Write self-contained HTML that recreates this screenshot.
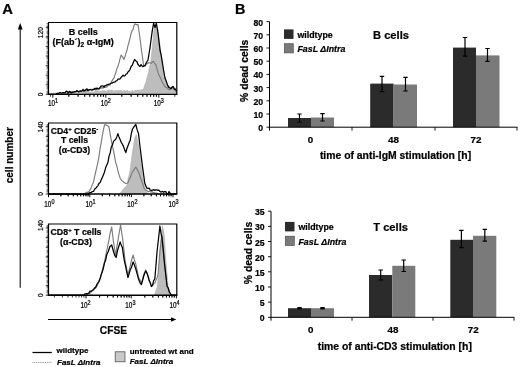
<!DOCTYPE html>
<html><head><meta charset="utf-8"><style>
html,body{margin:0;padding:0;background:#fff;}
body{width:520px;height:367px;overflow:hidden;font-family:"Liberation Sans",sans-serif;}
svg{display:block;}
svg text[font-weight="bold"]{stroke:#000;stroke-width:0.22px;}
</style></head><body>
<svg width="520" height="367" viewBox="0 0 520 367" style="filter:blur(0.3px)">
<rect width="520" height="367" fill="#fff"/>
<text x="2.2" y="14" font-family="Liberation Sans, sans-serif" font-weight="bold" font-size="14.8" stroke="#000" stroke-width="0.3">A</text>
<text x="234.9" y="14" font-family="Liberation Sans, sans-serif" font-weight="bold" font-size="14.4" stroke="#000" stroke-width="0.3">B</text>
<line x1="20.2" y1="27" x2="20.2" y2="287.8" stroke="#000" stroke-width="1.05"/>
<polygon points="20.2,23 17.8,29.5 22.6,29.5" fill="#000"/>
<text transform="translate(13.1,155.2) rotate(-90)" text-anchor="middle" font-family="Liberation Sans, sans-serif" font-weight="bold" font-size="10">cell number</text>
<line x1="48" y1="319.5" x2="173" y2="319.5" stroke="#000" stroke-width="1"/>
<polygon points="176.3,319.5 171,317.2 171,321.8" fill="#000"/>
<text x="113.4" y="333.6" text-anchor="middle" font-family="Liberation Sans, sans-serif" font-weight="bold" font-size="10.2">CFSE</text>
<polygon points="48.5,94.4 48.5,93.4 49.5,93.4 50.5,93.3 51.6,93.3 52.6,93.3 53.6,93.3 54.6,93.2 55.7,93.1 56.7,93.0 57.7,92.6 58.7,94.4 59.8,92.3 60.8,93.1 61.8,94.4 62.8,92.3 63.9,93.1 64.9,93.1 65.9,92.2 66.9,92.7 68.0,93.2 69.0,92.8 70.0,92.8 71.0,93.1 72.0,92.2 73.0,92.3 74.0,92.0 75.0,92.6 76.0,93.2 77.0,92.7 78.0,92.9 79.0,92.3 80.0,92.8 81.0,91.7 82.0,92.0 83.0,92.6 84.0,92.6 85.0,92.1 86.0,91.5 87.0,91.7 88.0,91.6 89.0,91.7 90.0,92.0 91.0,92.4 92.0,91.3 93.0,92.3 94.0,92.2 95.0,90.8 96.0,91.2 97.0,91.3 98.0,90.4 99.0,91.0 100.0,91.0 101.0,91.6 102.0,90.3 103.0,91.1 104.0,90.3 105.0,91.0 106.0,91.5 107.0,90.4 108.0,90.1 109.0,90.2 110.0,90.9 111.0,90.0 112.0,90.1 113.0,90.7 114.0,91.4 115.0,90.6 116.0,90.5 117.0,90.9 118.0,90.0 119.0,90.7 120.0,90.6 121.0,90.1 122.0,90.9 123.0,91.5 124.0,90.0 125.0,90.9 126.0,91.0 127.0,90.3 128.0,90.5 129.0,91.8 130.0,91.0 131.0,91.7 132.0,90.3 133.0,91.1 134.0,91.5 135.0,90.3 136.0,90.8 137.0,89.8 138.0,90.5 139.1,90.0 140.2,90.2 141.3,89.7 142.4,89.7 143.5,89.0 144.8,84.8 146.0,82.0 147.0,77.8 148.0,74.0 149.0,69.9 150.0,64.8 151.0,60.0 152.5,45.0 154.0,30.0 155.3,22.8 156.4,25.3 157.5,28.0 158.8,36.3 160.0,45.0 161.0,53.3 162.0,60.0 163.7,74.0 165.5,80.0 167.0,84.0 168.0,85.3 169.0,85.6 170.0,87.5 171.0,87.5 172.0,86.2 173.0,86.0 174.2,87.4 175.3,88.5 176.5,90.5 176.5,94.4" fill="#bdbdbd" stroke="#a8a8a8" stroke-width="0.5"/>
<polyline points="48.5,94.4 49.5,94.4 50.6,94.4 51.6,94.4 52.6,94.4 53.7,94.4 54.7,94.4 55.7,94.4 56.8,94.4 57.8,94.4 58.8,94.4 59.8,93.4 60.9,93.3 61.9,93.3 62.9,93.4 64.0,93.5 65.0,93.0 66.0,93.4 67.0,94.4 68.0,93.1 69.0,93.3 70.0,91.7 71.0,92.3 72.0,93.0 73.0,92.4 74.0,92.7 75.0,91.4 76.0,91.9 77.0,91.4 78.0,91.8 79.0,91.7 80.0,91.5 81.0,90.6 82.0,90.8 83.0,90.7 84.0,91.6 85.0,91.3 86.0,90.2 87.0,91.0 88.0,89.9 89.0,90.5 90.0,89.6 91.0,89.2 92.0,90.5 93.0,89.3 94.0,89.2 95.0,89.5 96.0,90.0 97.0,89.6 98.0,88.4 99.0,89.2 100.0,88.3 101.0,88.3 102.0,87.3 103.0,88.2 104.0,87.6 105.0,87.0 106.0,87.3 107.0,86.8 108.0,85.5 109.0,85.2 110.0,85.0 111.0,82.7 112.0,80.9 113.0,79.1 114.0,78.0 115.0,74.7 116.0,72.2 117.0,68.2 118.0,66.0 119.1,62.6 120.1,58.4 121.2,55.0 122.6,56.9 123.9,59.5 124.9,56.8 126.0,53.1 127.0,50.0 128.0,45.7 129.0,42.0 130.0,38.3 131.0,34.0 132.0,30.7 133.0,29.7 134.0,25.6 135.0,23.8 136.0,24.4 137.0,24.8 138.0,24.5 139.2,32.5 140.5,42.0 141.5,50.5 142.6,57.8 143.6,66.0 144.7,65.5 145.9,63.9 147.0,64.0 148.0,62.9 149.0,62.8 150.0,63.0 151.2,63.3 152.4,61.6 153.6,61.6 154.8,63.7 156.0,65.0 157.0,69.0 158.0,72.4 159.0,75.0 160.2,77.4 161.4,80.1 162.6,83.0 163.7,84.5 164.9,86.4 166.0,87.5 167.1,87.6 168.2,89.3 169.3,89.6 170.5,89.2 171.8,88.4 173.0,87.0 174.2,87.8 175.3,90.7 176.5,91.5" fill="none" stroke="#7c7c7c" stroke-width="1.15" stroke-linejoin="round"/>
<polyline points="48.5,94.4 49.5,94.4 50.6,94.4 51.6,94.4 52.7,94.4 53.7,94.4 54.8,94.4 55.8,94.4 56.8,93.5 57.9,93.3 58.9,93.2 60.0,92.5 61.0,93.0 62.0,93.0 63.0,92.5 64.0,92.9 65.0,92.9 66.0,91.4 67.0,91.2 68.0,93.1 69.0,91.6 70.0,91.4 71.0,93.1 72.0,91.8 73.0,92.5 74.0,91.6 75.0,91.5 76.0,91.7 77.0,90.4 78.0,91.4 79.0,91.8 80.0,90.9 81.0,91.3 82.0,91.0 83.0,89.4 84.0,90.9 85.0,90.4 86.0,89.6 87.0,88.8 88.0,90.6 89.0,89.6 90.0,89.5 91.0,89.8 92.0,90.0 93.0,89.4 94.0,89.7 95.0,88.2 96.0,89.0 97.0,88.0 98.0,88.9 99.0,88.6 100.0,87.5 101.0,86.2 102.0,85.9 103.0,85.8 104.0,87.2 105.0,85.6 106.0,85.7 107.0,84.6 108.0,84.7 109.0,84.1 110.0,84.0 111.0,83.1 112.0,83.2 113.0,82.5 114.0,82.0 115.0,82.1 116.0,80.8 117.0,80.7 118.0,79.0 119.0,79.2 120.0,78.9 121.0,77.5 122.0,76.5 123.0,75.1 124.0,76.1 125.0,75.7 126.0,74.0 127.0,73.8 128.0,71.9 129.0,71.1 130.0,69.5 131.2,66.3 132.3,65.3 133.4,62.2 134.6,59.5 135.7,60.7 136.9,61.8 138.0,64.5 139.0,65.7 140.0,66.4 141.0,64.6 142.0,66.0 143.0,66.7 144.0,65.8 145.0,66.0 146.0,63.2 147.0,61.5 148.0,60.0 149.0,54.0 150.0,47.6 151.0,40.0 152.3,30.6 153.6,23.3 155.0,27.5 156.4,23.5 158.0,33.0 159.0,41.8 160.0,50.0 161.3,55.9 162.6,64.0 163.8,71.5 165.0,78.0 166.2,81.1 167.5,85.0 168.8,87.4 170.0,88.0 171.0,88.7 172.0,87.0 173.0,86.5 174.2,89.2 175.3,89.0 176.5,91.0" fill="none" stroke="#000" stroke-width="1.25" stroke-linejoin="round"/>
<polyline points="48.5,94.4 48.5,22.5 176.8,22.5 176.8,94.4" fill="none" stroke="#000" stroke-width="1.2"/>
<line x1="47.9" y1="94.4" x2="177.4" y2="94.4" stroke="#000" stroke-width="1.4"/>
<line x1="47.3" y1="23.5" x2="47.3" y2="94.4" stroke="#000" stroke-width="1.4" stroke-dasharray="0.5,0.75"/>
<line x1="45.7" y1="94.4" x2="48.5" y2="94.4" stroke="#000" stroke-width="0.7"/>
<line x1="45.7" y1="84.8" x2="48.5" y2="84.8" stroke="#000" stroke-width="0.7"/>
<line x1="45.7" y1="75.2" x2="48.5" y2="75.2" stroke="#000" stroke-width="0.7"/>
<line x1="45.7" y1="65.6" x2="48.5" y2="65.6" stroke="#000" stroke-width="0.7"/>
<line x1="45.7" y1="56.0" x2="48.5" y2="56.0" stroke="#000" stroke-width="0.7"/>
<line x1="45.7" y1="46.4" x2="48.5" y2="46.4" stroke="#000" stroke-width="0.7"/>
<line x1="45.7" y1="36.8" x2="48.5" y2="36.8" stroke="#000" stroke-width="0.7"/>
<line x1="45.7" y1="27.2" x2="48.5" y2="27.2" stroke="#000" stroke-width="0.7"/>
<text transform="translate(43.3,32.7) rotate(-90)" text-anchor="middle" font-family="Liberation Sans, sans-serif" font-size="6.6" stroke="#000" stroke-width="0.2">120</text>
<text transform="translate(43.3,94.4) rotate(-90)" text-anchor="middle" font-family="Liberation Sans, sans-serif" font-size="6.6" stroke="#000" stroke-width="0.2">0</text>
<line x1="52.8" y1="94.4" x2="52.8" y2="97.60000000000001" stroke="#000" stroke-width="0.95"/>
<text transform="translate(53.1,106.30000000000001) scale(0.74,1)" text-anchor="middle" font-family="Liberation Sans, sans-serif" font-size="8.6" stroke="#000" stroke-width="0.25">10<tspan dy="-3.5" font-size="7.4">1</tspan></text>
<line x1="50.4" y1="94.4" x2="50.4" y2="96.7" stroke="#000" stroke-width="0.8"/>
<line x1="68.8" y1="94.4" x2="68.8" y2="96.7" stroke="#000" stroke-width="0.8"/>
<line x1="78.1" y1="94.4" x2="78.1" y2="96.7" stroke="#000" stroke-width="0.8"/>
<line x1="84.7" y1="94.4" x2="84.7" y2="96.7" stroke="#000" stroke-width="0.8"/>
<line x1="89.8" y1="94.4" x2="89.8" y2="96.7" stroke="#000" stroke-width="0.8"/>
<line x1="94.0" y1="94.4" x2="94.0" y2="96.7" stroke="#000" stroke-width="0.8"/>
<line x1="97.6" y1="94.4" x2="97.6" y2="96.7" stroke="#000" stroke-width="0.8"/>
<line x1="100.7" y1="94.4" x2="100.7" y2="96.7" stroke="#000" stroke-width="0.8"/>
<line x1="103.4" y1="94.4" x2="103.4" y2="96.7" stroke="#000" stroke-width="0.8"/>
<line x1="105.8" y1="94.4" x2="105.8" y2="97.60000000000001" stroke="#000" stroke-width="0.95"/>
<text transform="translate(105.8,106.30000000000001) scale(0.74,1)" text-anchor="middle" font-family="Liberation Sans, sans-serif" font-size="8.6" stroke="#000" stroke-width="0.25">10<tspan dy="-3.5" font-size="7.4">2</tspan></text>
<line x1="68.8" y1="94.4" x2="68.8" y2="96.7" stroke="#000" stroke-width="0.8"/>
<line x1="78.1" y1="94.4" x2="78.1" y2="96.7" stroke="#000" stroke-width="0.8"/>
<line x1="84.7" y1="94.4" x2="84.7" y2="96.7" stroke="#000" stroke-width="0.8"/>
<line x1="89.8" y1="94.4" x2="89.8" y2="96.7" stroke="#000" stroke-width="0.8"/>
<line x1="94.0" y1="94.4" x2="94.0" y2="96.7" stroke="#000" stroke-width="0.8"/>
<line x1="97.6" y1="94.4" x2="97.6" y2="96.7" stroke="#000" stroke-width="0.8"/>
<line x1="100.7" y1="94.4" x2="100.7" y2="96.7" stroke="#000" stroke-width="0.8"/>
<line x1="103.4" y1="94.4" x2="103.4" y2="96.7" stroke="#000" stroke-width="0.8"/>
<line x1="121.8" y1="94.4" x2="121.8" y2="96.7" stroke="#000" stroke-width="0.8"/>
<line x1="131.1" y1="94.4" x2="131.1" y2="96.7" stroke="#000" stroke-width="0.8"/>
<line x1="137.7" y1="94.4" x2="137.7" y2="96.7" stroke="#000" stroke-width="0.8"/>
<line x1="142.8" y1="94.4" x2="142.8" y2="96.7" stroke="#000" stroke-width="0.8"/>
<line x1="147.0" y1="94.4" x2="147.0" y2="96.7" stroke="#000" stroke-width="0.8"/>
<line x1="150.6" y1="94.4" x2="150.6" y2="96.7" stroke="#000" stroke-width="0.8"/>
<line x1="153.7" y1="94.4" x2="153.7" y2="96.7" stroke="#000" stroke-width="0.8"/>
<line x1="156.4" y1="94.4" x2="156.4" y2="96.7" stroke="#000" stroke-width="0.8"/>
<line x1="158.8" y1="94.4" x2="158.8" y2="97.60000000000001" stroke="#000" stroke-width="0.95"/>
<text transform="translate(158.8,106.30000000000001) scale(0.74,1)" text-anchor="middle" font-family="Liberation Sans, sans-serif" font-size="8.6" stroke="#000" stroke-width="0.25">10<tspan dy="-3.5" font-size="7.4">3</tspan></text>
<line x1="121.8" y1="94.4" x2="121.8" y2="96.7" stroke="#000" stroke-width="0.8"/>
<line x1="131.1" y1="94.4" x2="131.1" y2="96.7" stroke="#000" stroke-width="0.8"/>
<line x1="137.7" y1="94.4" x2="137.7" y2="96.7" stroke="#000" stroke-width="0.8"/>
<line x1="142.8" y1="94.4" x2="142.8" y2="96.7" stroke="#000" stroke-width="0.8"/>
<line x1="147.0" y1="94.4" x2="147.0" y2="96.7" stroke="#000" stroke-width="0.8"/>
<line x1="150.6" y1="94.4" x2="150.6" y2="96.7" stroke="#000" stroke-width="0.8"/>
<line x1="153.7" y1="94.4" x2="153.7" y2="96.7" stroke="#000" stroke-width="0.8"/>
<line x1="156.4" y1="94.4" x2="156.4" y2="96.7" stroke="#000" stroke-width="0.8"/>
<line x1="174.8" y1="94.4" x2="174.8" y2="96.7" stroke="#000" stroke-width="0.8"/>
<text x="83.2" y="34.6" text-anchor="middle" font-family="Liberation Sans, sans-serif" font-weight="bold" font-size="9">B cells</text>
<text x="83.2" y="45.4" text-anchor="middle" font-family="Liberation Sans, sans-serif" font-weight="bold" font-size="9">(F(ab´)<tspan dy='2' font-size='6.5'>2</tspan><tspan dy='-2'> α-IgM)</tspan></text>
<polygon points="120.2,194.0 120.2,193.0 121.3,192.1 122.4,189.8 123.6,189.2 124.7,187.3 125.8,186.8 126.9,185.0 128.0,179.3 129.1,174.9 130.2,169.3 131.3,160.6 132.5,151.5 133.6,145.1 134.7,138.0 136.3,134.7 137.4,140.2 138.5,144.8 139.6,153.4 140.7,162.6 142.1,172.5 143.6,182.7 144.7,186.8 145.8,190.5 146.9,192.0 148.0,194.0 148.0,194.0" fill="#bdbdbd" stroke="#a8a8a8" stroke-width="0.5"/>
<polyline points="48.5,194.0 49.5,194.0 50.5,194.0 51.5,194.0 52.6,194.0 53.6,194.0 54.6,194.0 55.6,194.0 56.6,194.0 57.6,194.0 58.7,194.0 59.7,194.0 60.7,194.0 61.7,194.0 62.7,194.0 63.7,194.0 64.7,194.0 65.8,194.0 66.8,194.0 67.8,194.0 68.8,194.0 69.8,194.0 70.8,194.0 71.8,194.0 72.9,194.0 73.9,194.0 74.9,194.0 75.9,194.0 76.9,194.0 77.9,194.0 79.0,194.0 80.0,194.0 81.0,194.0 82.0,194.0 83.2,194.0 84.3,194.0 85.5,192.9 86.6,192.1 87.8,192.5 88.9,191.8 90.0,189.9 91.2,187.9 92.3,184.4 93.4,182.7 94.5,177.2 95.7,172.0 96.8,167.1 97.9,162.6 99.0,156.3 100.1,148.6 101.2,142.6 102.3,135.9 103.4,129.9 104.6,124.9 105.8,124.8 107.0,125.5 108.0,126.1 109.0,127.0 110.2,134.3 111.3,140.3 112.4,146.1 113.5,150.6 114.6,156.6 115.7,162.6 116.8,165.9 118.0,171.1 119.1,174.9 120.2,178.3 121.3,180.0 122.4,181.1 123.5,182.0 124.6,182.7 125.7,183.5 126.9,183.2 128.0,182.7 129.1,179.5 130.2,177.8 131.4,174.4 132.5,171.6 133.6,170.5 134.7,168.6 135.8,167.0 136.9,169.1 138.1,171.3 139.2,173.8 140.3,177.0 141.4,180.2 142.5,183.2 143.6,187.2 144.7,188.9 145.9,189.9 147.0,190.5 148.0,191.7 149.0,191.5 150.0,191.5 151.0,192.2 152.0,191.4 153.0,192.7 154.0,192.6 155.0,193.0 156.0,193.0 157.0,193.1 158.1,194.0 159.1,194.0 160.1,194.0 161.1,194.0 162.2,194.0 163.2,194.0 164.2,194.0 165.2,194.0 166.3,194.0 167.3,194.0 168.3,194.0 169.3,194.0 170.4,194.0 171.4,194.0 172.4,194.0 173.4,194.0 174.5,194.0 175.5,194.0 176.5,194.0" fill="none" stroke="#7c7c7c" stroke-width="1.15" stroke-linejoin="round"/>
<polyline points="48.5,194.0 49.5,194.0 50.5,194.0 51.5,194.0 52.6,194.0 53.6,194.0 54.6,194.0 55.6,194.0 56.6,194.0 57.6,194.0 58.6,194.0 59.7,194.0 60.7,194.0 61.7,194.0 62.7,194.0 63.7,194.0 64.7,194.0 65.7,194.0 66.8,194.0 67.8,194.0 68.8,194.0 69.8,194.0 70.8,194.0 71.8,194.0 72.8,194.0 73.8,194.0 74.9,194.0 75.9,194.0 76.9,194.0 77.9,194.0 78.9,194.0 79.9,194.0 80.9,194.0 82.0,194.0 83.0,194.0 84.0,194.0 85.0,194.0 86.0,194.0 87.1,194.0 88.1,194.0 89.1,193.0 90.2,192.6 91.2,192.5 92.4,191.5 93.6,191.3 94.8,189.0 96.0,188.0 97.0,186.7 98.0,185.6 99.0,183.3 100.0,182.7 101.2,180.0 102.3,177.5 103.4,175.1 104.6,171.6 105.7,167.6 106.8,165.1 107.9,162.6 109.0,156.4 110.2,152.9 111.3,147.0 112.4,145.2 113.5,141.4 114.6,140.3 115.7,139.2 116.8,136.9 117.9,133.6 119.0,136.9 120.2,139.8 121.3,142.5 122.4,144.2 123.5,146.4 124.7,150.1 125.8,152.6 126.9,148.5 128.0,145.7 129.1,142.8 130.2,140.3 131.3,133.5 132.5,129.0 133.6,127.4 134.7,125.9 135.8,124.5 137.2,129.9 138.5,133.6 139.9,145.8 141.4,158.0 142.5,166.6 143.6,174.5 144.7,182.7 145.8,185.9 147.0,188.3 148.1,188.4 149.2,188.2 150.3,190.1 151.5,190.4 152.6,190.2 153.7,189.6 154.8,190.4 155.8,189.8 156.8,189.9 157.9,190.4 158.9,190.2 160.0,191.5 161.2,192.1 162.4,191.3 163.6,192.3 164.8,191.5 165.8,191.5 166.9,194.0 167.9,194.0 169.0,191.5 170.0,193.0 171.1,194.0 172.2,194.0 173.2,194.0 174.3,194.0 175.4,194.0 176.5,194.0" fill="none" stroke="#000" stroke-width="1.25" stroke-linejoin="round"/>
<polyline points="48.5,194.0 48.5,123 176.8,123 176.8,194.0" fill="none" stroke="#000" stroke-width="1.2"/>
<line x1="47.9" y1="194.0" x2="177.4" y2="194.0" stroke="#000" stroke-width="1.4"/>
<line x1="47.3" y1="124" x2="47.3" y2="194.0" stroke="#000" stroke-width="1.4" stroke-dasharray="0.5,0.75"/>
<line x1="45.7" y1="194.0" x2="48.5" y2="194.0" stroke="#000" stroke-width="0.7"/>
<line x1="45.7" y1="184.4" x2="48.5" y2="184.4" stroke="#000" stroke-width="0.7"/>
<line x1="45.7" y1="174.8" x2="48.5" y2="174.8" stroke="#000" stroke-width="0.7"/>
<line x1="45.7" y1="165.2" x2="48.5" y2="165.2" stroke="#000" stroke-width="0.7"/>
<line x1="45.7" y1="155.6" x2="48.5" y2="155.6" stroke="#000" stroke-width="0.7"/>
<line x1="45.7" y1="146.0" x2="48.5" y2="146.0" stroke="#000" stroke-width="0.7"/>
<line x1="45.7" y1="136.4" x2="48.5" y2="136.4" stroke="#000" stroke-width="0.7"/>
<line x1="45.7" y1="126.8" x2="48.5" y2="126.8" stroke="#000" stroke-width="0.7"/>
<text transform="translate(43.3,127) rotate(-90)" text-anchor="middle" font-family="Liberation Sans, sans-serif" font-size="6.6" stroke="#000" stroke-width="0.2">140</text>
<text transform="translate(43.3,194.0) rotate(-90)" text-anchor="middle" font-family="Liberation Sans, sans-serif" font-size="6.6" stroke="#000" stroke-width="0.2">0</text>
<line x1="48.5" y1="194.0" x2="48.5" y2="197.2" stroke="#000" stroke-width="0.95"/>
<text transform="translate(49.4,207.0) scale(0.74,1)" text-anchor="middle" font-family="Liberation Sans, sans-serif" font-size="8.6" stroke="#000" stroke-width="0.25">10<tspan dy="-3.5" font-size="7.4">0</tspan></text>
<line x1="61.0" y1="194.0" x2="61.0" y2="196.3" stroke="#000" stroke-width="0.8"/>
<line x1="68.3" y1="194.0" x2="68.3" y2="196.3" stroke="#000" stroke-width="0.8"/>
<line x1="73.5" y1="194.0" x2="73.5" y2="196.3" stroke="#000" stroke-width="0.8"/>
<line x1="77.6" y1="194.0" x2="77.6" y2="196.3" stroke="#000" stroke-width="0.8"/>
<line x1="80.9" y1="194.0" x2="80.9" y2="196.3" stroke="#000" stroke-width="0.8"/>
<line x1="83.7" y1="194.0" x2="83.7" y2="196.3" stroke="#000" stroke-width="0.8"/>
<line x1="86.1" y1="194.0" x2="86.1" y2="196.3" stroke="#000" stroke-width="0.8"/>
<line x1="88.2" y1="194.0" x2="88.2" y2="196.3" stroke="#000" stroke-width="0.8"/>
<line x1="89.8" y1="194.0" x2="89.8" y2="197.2" stroke="#000" stroke-width="0.95"/>
<text transform="translate(90.6,207.0) scale(0.74,1)" text-anchor="middle" font-family="Liberation Sans, sans-serif" font-size="8.6" stroke="#000" stroke-width="0.25">10<tspan dy="-3.5" font-size="7.4">1</tspan></text>
<line x1="60.7" y1="194.0" x2="60.7" y2="196.3" stroke="#000" stroke-width="0.8"/>
<line x1="68.0" y1="194.0" x2="68.0" y2="196.3" stroke="#000" stroke-width="0.8"/>
<line x1="73.2" y1="194.0" x2="73.2" y2="196.3" stroke="#000" stroke-width="0.8"/>
<line x1="77.3" y1="194.0" x2="77.3" y2="196.3" stroke="#000" stroke-width="0.8"/>
<line x1="80.6" y1="194.0" x2="80.6" y2="196.3" stroke="#000" stroke-width="0.8"/>
<line x1="83.4" y1="194.0" x2="83.4" y2="196.3" stroke="#000" stroke-width="0.8"/>
<line x1="85.8" y1="194.0" x2="85.8" y2="196.3" stroke="#000" stroke-width="0.8"/>
<line x1="87.9" y1="194.0" x2="87.9" y2="196.3" stroke="#000" stroke-width="0.8"/>
<line x1="102.3" y1="194.0" x2="102.3" y2="196.3" stroke="#000" stroke-width="0.8"/>
<line x1="109.6" y1="194.0" x2="109.6" y2="196.3" stroke="#000" stroke-width="0.8"/>
<line x1="114.8" y1="194.0" x2="114.8" y2="196.3" stroke="#000" stroke-width="0.8"/>
<line x1="118.9" y1="194.0" x2="118.9" y2="196.3" stroke="#000" stroke-width="0.8"/>
<line x1="122.2" y1="194.0" x2="122.2" y2="196.3" stroke="#000" stroke-width="0.8"/>
<line x1="125.0" y1="194.0" x2="125.0" y2="196.3" stroke="#000" stroke-width="0.8"/>
<line x1="127.4" y1="194.0" x2="127.4" y2="196.3" stroke="#000" stroke-width="0.8"/>
<line x1="129.5" y1="194.0" x2="129.5" y2="196.3" stroke="#000" stroke-width="0.8"/>
<line x1="131.4" y1="194.0" x2="131.4" y2="197.2" stroke="#000" stroke-width="0.95"/>
<text transform="translate(132.4,207.0) scale(0.74,1)" text-anchor="middle" font-family="Liberation Sans, sans-serif" font-size="8.6" stroke="#000" stroke-width="0.25">10<tspan dy="-3.5" font-size="7.4">2</tspan></text>
<line x1="102.3" y1="194.0" x2="102.3" y2="196.3" stroke="#000" stroke-width="0.8"/>
<line x1="109.6" y1="194.0" x2="109.6" y2="196.3" stroke="#000" stroke-width="0.8"/>
<line x1="114.8" y1="194.0" x2="114.8" y2="196.3" stroke="#000" stroke-width="0.8"/>
<line x1="118.9" y1="194.0" x2="118.9" y2="196.3" stroke="#000" stroke-width="0.8"/>
<line x1="122.2" y1="194.0" x2="122.2" y2="196.3" stroke="#000" stroke-width="0.8"/>
<line x1="125.0" y1="194.0" x2="125.0" y2="196.3" stroke="#000" stroke-width="0.8"/>
<line x1="127.4" y1="194.0" x2="127.4" y2="196.3" stroke="#000" stroke-width="0.8"/>
<line x1="129.5" y1="194.0" x2="129.5" y2="196.3" stroke="#000" stroke-width="0.8"/>
<line x1="143.9" y1="194.0" x2="143.9" y2="196.3" stroke="#000" stroke-width="0.8"/>
<line x1="151.2" y1="194.0" x2="151.2" y2="196.3" stroke="#000" stroke-width="0.8"/>
<line x1="156.4" y1="194.0" x2="156.4" y2="196.3" stroke="#000" stroke-width="0.8"/>
<line x1="160.5" y1="194.0" x2="160.5" y2="196.3" stroke="#000" stroke-width="0.8"/>
<line x1="163.8" y1="194.0" x2="163.8" y2="196.3" stroke="#000" stroke-width="0.8"/>
<line x1="166.6" y1="194.0" x2="166.6" y2="196.3" stroke="#000" stroke-width="0.8"/>
<line x1="169.0" y1="194.0" x2="169.0" y2="196.3" stroke="#000" stroke-width="0.8"/>
<line x1="171.1" y1="194.0" x2="171.1" y2="196.3" stroke="#000" stroke-width="0.8"/>
<line x1="173" y1="194.0" x2="173" y2="197.2" stroke="#000" stroke-width="0.95"/>
<text transform="translate(173.6,207.0) scale(0.74,1)" text-anchor="middle" font-family="Liberation Sans, sans-serif" font-size="8.6" stroke="#000" stroke-width="0.25">10<tspan dy="-3.5" font-size="7.4">3</tspan></text>
<line x1="143.9" y1="194.0" x2="143.9" y2="196.3" stroke="#000" stroke-width="0.8"/>
<line x1="151.2" y1="194.0" x2="151.2" y2="196.3" stroke="#000" stroke-width="0.8"/>
<line x1="156.4" y1="194.0" x2="156.4" y2="196.3" stroke="#000" stroke-width="0.8"/>
<line x1="160.5" y1="194.0" x2="160.5" y2="196.3" stroke="#000" stroke-width="0.8"/>
<line x1="163.8" y1="194.0" x2="163.8" y2="196.3" stroke="#000" stroke-width="0.8"/>
<line x1="166.6" y1="194.0" x2="166.6" y2="196.3" stroke="#000" stroke-width="0.8"/>
<line x1="169.0" y1="194.0" x2="169.0" y2="196.3" stroke="#000" stroke-width="0.8"/>
<line x1="171.1" y1="194.0" x2="171.1" y2="196.3" stroke="#000" stroke-width="0.8"/>
<text x="74.5" y="134.2" text-anchor="middle" font-family="Liberation Sans, sans-serif" font-weight="bold" font-size="8.7">CD4<tspan dy='-3' font-size='6'>+</tspan><tspan dy='3'> CD25</tspan><tspan dy='-3' font-size='6'>-</tspan></text>
<text x="74.5" y="143.4" text-anchor="middle" font-family="Liberation Sans, sans-serif" font-weight="bold" font-size="8.7">T cells</text>
<text x="74.5" y="152.6" text-anchor="middle" font-family="Liberation Sans, sans-serif" font-weight="bold" font-size="8.7">(α-CD3)</text>
<polygon points="154.8,295.2 154.8,294.0 155.9,290.7 157.0,288.0 158.0,279.7 159.0,271.0 160.5,242.0 162.3,225.5 164.0,232.5 165.0,247.6 166.0,262.5 167.0,274.0 168.0,285.5 169.8,293.0 169.8,295.2" fill="#bdbdbd" stroke="#a8a8a8" stroke-width="0.5"/>
<polyline points="48.5,295.2 49.5,295.2 50.5,295.2 51.5,295.2 52.6,295.2 53.6,295.2 54.6,295.2 55.6,295.2 56.6,295.2 57.6,295.2 58.6,295.2 59.7,295.2 60.7,295.2 61.7,295.2 62.7,295.2 63.7,295.2 64.7,295.2 65.7,295.2 66.8,295.2 67.8,295.2 68.8,295.2 69.8,295.2 70.8,295.2 71.8,295.2 72.8,295.2 73.9,295.2 74.9,295.2 75.9,295.2 76.9,295.2 77.9,295.2 78.9,295.2 79.9,295.2 81.0,295.2 82.0,295.2 83.0,295.2 84.0,295.2 85.0,295.2 86.0,295.2 87.0,294.1 88.0,294.0 89.0,293.8 90.0,293.0 91.0,292.0 92.0,291.0 93.0,289.8 94.0,289.8 95.0,287.7 96.0,286.4 97.0,286.0 98.0,283.1 99.0,280.6 100.0,278.2 101.0,276.0 102.2,271.0 103.3,266.0 104.5,262.0 105.5,256.7 106.5,251.7 107.5,247.0 108.8,240.6 110.0,234.0 111.7,227.0 113.5,242.0 114.6,248.5 115.7,256.0 116.8,247.3 118.0,240.0 119.3,232.0 120.6,225.0 121.7,232.6 122.8,240.0 123.9,249.8 125.0,260.0 126.0,265.4 127.0,270.5 128.0,275.0 129.1,270.4 130.2,266.0 131.6,259.9 133.1,255.0 134.4,259.9 135.8,264.0 137.2,270.9 138.5,277.0 139.9,279.8 141.4,283.0 142.5,279.3 143.6,275.0 144.7,272.2 145.8,270.0 146.9,273.7 148.1,276.0 149.2,279.9 150.3,283.1 151.4,286.0 152.6,285.7 153.8,283.6 155.0,283.0 156.0,280.4 157.0,278.0 158.0,275.0 159.0,263.0 160.0,250.0 161.0,242.8 162.0,236.0 163.2,248.4 164.5,262.0 165.8,274.2 167.0,286.0 168.2,288.4 169.3,292.0 170.7,293.9 172.0,295.2 173.1,295.2 174.2,295.2 175.4,295.2 176.5,295.2" fill="none" stroke="#7c7c7c" stroke-width="1.15" stroke-linejoin="round"/>
<polyline points="48.5,295.2 49.5,295.2 50.5,295.2 51.5,295.2 52.6,295.2 53.6,295.2 54.6,295.2 55.6,295.2 56.6,295.2 57.6,295.2 58.7,295.2 59.7,295.2 60.7,295.2 61.7,295.2 62.7,295.2 63.7,295.2 64.8,295.2 65.8,295.2 66.8,295.2 67.8,295.2 68.8,295.2 69.8,295.2 70.9,295.2 71.9,295.2 72.9,295.2 73.9,295.2 74.9,295.2 75.9,295.2 77.0,295.2 78.0,295.2 79.0,295.2 80.0,295.2 81.1,295.2 82.2,295.2 83.3,295.2 84.5,294.1 85.6,293.8 86.7,293.5 87.8,293.5 88.9,293.1 90.0,291.0 91.2,291.3 92.3,290.5 93.4,289.7 94.5,287.8 95.6,288.0 96.7,284.7 97.8,283.2 98.9,281.8 100.0,279.0 101.1,274.8 102.3,271.7 103.4,268.0 104.5,263.1 105.7,259.8 106.8,254.5 108.2,251.7 109.7,247.0 110.7,245.8 111.7,245.0 113.5,251.5 114.8,255.6 116.2,257.5 117.3,251.5 118.4,247.5 120.2,242.0 121.3,245.4 122.4,247.5 123.5,255.6 124.6,262.0 125.7,266.4 126.9,272.8 128.0,277.5 129.1,273.9 130.2,270.0 131.6,267.0 133.1,262.0 134.4,264.9 135.8,269.0 137.2,274.1 138.5,279.0 139.9,282.6 141.4,284.5 142.5,280.8 143.6,276.5 144.7,273.3 145.8,271.0 146.9,272.8 148.1,276.5 149.2,280.8 150.3,283.1 151.4,286.5 152.5,285.1 153.7,280.7 154.8,279.0 155.9,266.2 157.0,252.0 158.4,239.7 159.9,226.0 161.0,233.2 162.1,238.5 163.2,249.7 164.4,263.0 165.7,274.2 167.0,286.0 168.2,288.0 169.3,292.0 170.7,294.2 172.0,295.2 173.1,295.2 174.2,295.2 175.4,295.2 176.5,295.2" fill="none" stroke="#000" stroke-width="1.25" stroke-linejoin="round"/>
<polyline points="48.5,295.2 48.5,224 176.8,224 176.8,295.2" fill="none" stroke="#000" stroke-width="1.2"/>
<line x1="47.9" y1="295.2" x2="177.4" y2="295.2" stroke="#000" stroke-width="1.4"/>
<line x1="47.3" y1="225" x2="47.3" y2="295.2" stroke="#000" stroke-width="1.4" stroke-dasharray="0.5,0.75"/>
<line x1="45.7" y1="295.2" x2="48.5" y2="295.2" stroke="#000" stroke-width="0.7"/>
<line x1="45.7" y1="285.6" x2="48.5" y2="285.6" stroke="#000" stroke-width="0.7"/>
<line x1="45.7" y1="276.0" x2="48.5" y2="276.0" stroke="#000" stroke-width="0.7"/>
<line x1="45.7" y1="266.4" x2="48.5" y2="266.4" stroke="#000" stroke-width="0.7"/>
<line x1="45.7" y1="256.8" x2="48.5" y2="256.8" stroke="#000" stroke-width="0.7"/>
<line x1="45.7" y1="247.2" x2="48.5" y2="247.2" stroke="#000" stroke-width="0.7"/>
<line x1="45.7" y1="237.6" x2="48.5" y2="237.6" stroke="#000" stroke-width="0.7"/>
<line x1="45.7" y1="228.0" x2="48.5" y2="228.0" stroke="#000" stroke-width="0.7"/>
<text transform="translate(43.3,225.5) rotate(-90)" text-anchor="middle" font-family="Liberation Sans, sans-serif" font-size="6.6" stroke="#000" stroke-width="0.2">140</text>
<text transform="translate(43.3,295.2) rotate(-90)" text-anchor="middle" font-family="Liberation Sans, sans-serif" font-size="6.6" stroke="#000" stroke-width="0.2">0</text>
<line x1="86" y1="295.2" x2="86" y2="298.4" stroke="#000" stroke-width="0.95"/>
<text transform="translate(85.6,308.2) scale(0.74,1)" text-anchor="middle" font-family="Liberation Sans, sans-serif" font-size="8.6" stroke="#000" stroke-width="0.25">10<tspan dy="-3.5" font-size="7.4">2</tspan></text>
<line x1="54.4" y1="295.2" x2="54.4" y2="297.5" stroke="#000" stroke-width="0.8"/>
<line x1="62.4" y1="295.2" x2="62.4" y2="297.5" stroke="#000" stroke-width="0.8"/>
<line x1="68.0" y1="295.2" x2="68.0" y2="297.5" stroke="#000" stroke-width="0.8"/>
<line x1="72.4" y1="295.2" x2="72.4" y2="297.5" stroke="#000" stroke-width="0.8"/>
<line x1="76.0" y1="295.2" x2="76.0" y2="297.5" stroke="#000" stroke-width="0.8"/>
<line x1="79.0" y1="295.2" x2="79.0" y2="297.5" stroke="#000" stroke-width="0.8"/>
<line x1="81.6" y1="295.2" x2="81.6" y2="297.5" stroke="#000" stroke-width="0.8"/>
<line x1="83.9" y1="295.2" x2="83.9" y2="297.5" stroke="#000" stroke-width="0.8"/>
<line x1="99.6" y1="295.2" x2="99.6" y2="297.5" stroke="#000" stroke-width="0.8"/>
<line x1="107.6" y1="295.2" x2="107.6" y2="297.5" stroke="#000" stroke-width="0.8"/>
<line x1="113.2" y1="295.2" x2="113.2" y2="297.5" stroke="#000" stroke-width="0.8"/>
<line x1="117.6" y1="295.2" x2="117.6" y2="297.5" stroke="#000" stroke-width="0.8"/>
<line x1="121.2" y1="295.2" x2="121.2" y2="297.5" stroke="#000" stroke-width="0.8"/>
<line x1="124.2" y1="295.2" x2="124.2" y2="297.5" stroke="#000" stroke-width="0.8"/>
<line x1="126.8" y1="295.2" x2="126.8" y2="297.5" stroke="#000" stroke-width="0.8"/>
<line x1="129.1" y1="295.2" x2="129.1" y2="297.5" stroke="#000" stroke-width="0.8"/>
<line x1="131.2" y1="295.2" x2="131.2" y2="298.4" stroke="#000" stroke-width="0.95"/>
<text transform="translate(130.4,308.2) scale(0.74,1)" text-anchor="middle" font-family="Liberation Sans, sans-serif" font-size="8.6" stroke="#000" stroke-width="0.25">10<tspan dy="-3.5" font-size="7.4">3</tspan></text>
<line x1="99.6" y1="295.2" x2="99.6" y2="297.5" stroke="#000" stroke-width="0.8"/>
<line x1="107.6" y1="295.2" x2="107.6" y2="297.5" stroke="#000" stroke-width="0.8"/>
<line x1="113.2" y1="295.2" x2="113.2" y2="297.5" stroke="#000" stroke-width="0.8"/>
<line x1="117.6" y1="295.2" x2="117.6" y2="297.5" stroke="#000" stroke-width="0.8"/>
<line x1="121.2" y1="295.2" x2="121.2" y2="297.5" stroke="#000" stroke-width="0.8"/>
<line x1="124.2" y1="295.2" x2="124.2" y2="297.5" stroke="#000" stroke-width="0.8"/>
<line x1="126.8" y1="295.2" x2="126.8" y2="297.5" stroke="#000" stroke-width="0.8"/>
<line x1="129.1" y1="295.2" x2="129.1" y2="297.5" stroke="#000" stroke-width="0.8"/>
<line x1="144.8" y1="295.2" x2="144.8" y2="297.5" stroke="#000" stroke-width="0.8"/>
<line x1="152.8" y1="295.2" x2="152.8" y2="297.5" stroke="#000" stroke-width="0.8"/>
<line x1="158.4" y1="295.2" x2="158.4" y2="297.5" stroke="#000" stroke-width="0.8"/>
<line x1="162.8" y1="295.2" x2="162.8" y2="297.5" stroke="#000" stroke-width="0.8"/>
<line x1="166.4" y1="295.2" x2="166.4" y2="297.5" stroke="#000" stroke-width="0.8"/>
<line x1="169.4" y1="295.2" x2="169.4" y2="297.5" stroke="#000" stroke-width="0.8"/>
<line x1="172.0" y1="295.2" x2="172.0" y2="297.5" stroke="#000" stroke-width="0.8"/>
<line x1="174.3" y1="295.2" x2="174.3" y2="297.5" stroke="#000" stroke-width="0.8"/>
<line x1="176.4" y1="295.2" x2="176.4" y2="298.4" stroke="#000" stroke-width="0.95"/>
<text transform="translate(174.6,308.2) scale(0.74,1)" text-anchor="middle" font-family="Liberation Sans, sans-serif" font-size="8.6" stroke="#000" stroke-width="0.25">10<tspan dy="-3.5" font-size="7.4">4</tspan></text>
<line x1="144.8" y1="295.2" x2="144.8" y2="297.5" stroke="#000" stroke-width="0.8"/>
<line x1="152.8" y1="295.2" x2="152.8" y2="297.5" stroke="#000" stroke-width="0.8"/>
<line x1="158.4" y1="295.2" x2="158.4" y2="297.5" stroke="#000" stroke-width="0.8"/>
<line x1="162.8" y1="295.2" x2="162.8" y2="297.5" stroke="#000" stroke-width="0.8"/>
<line x1="166.4" y1="295.2" x2="166.4" y2="297.5" stroke="#000" stroke-width="0.8"/>
<line x1="169.4" y1="295.2" x2="169.4" y2="297.5" stroke="#000" stroke-width="0.8"/>
<line x1="172.0" y1="295.2" x2="172.0" y2="297.5" stroke="#000" stroke-width="0.8"/>
<line x1="174.3" y1="295.2" x2="174.3" y2="297.5" stroke="#000" stroke-width="0.8"/>
<text x="76" y="235.2" text-anchor="middle" font-family="Liberation Sans, sans-serif" font-weight="bold" font-size="8.8">CD8<tspan dy='-3' font-size='6'>+</tspan><tspan dy='3'> T cells</tspan></text>
<text x="76" y="244.8" text-anchor="middle" font-family="Liberation Sans, sans-serif" font-weight="bold" font-size="8.8">(α-CD3)</text>
<line x1="32.5" y1="352.5" x2="51.8" y2="352.5" stroke="#000" stroke-width="1.25"/>
<line x1="32.5" y1="362.4" x2="51.8" y2="362.4" stroke="#8a8a8a" stroke-width="1" stroke-dasharray="1,0.8"/>
<text x="56.5" y="352.8" font-family="Liberation Sans, sans-serif" font-weight="bold" font-size="8">wildtype</text>
<text x="57" y="364.7" font-family="Liberation Sans, sans-serif" font-weight="bold" font-size="8" font-style="italic">FasL ΔIntra</text>
<rect x="115.2" y="351.8" width="9.8" height="10" fill="#c8c8c8" stroke="#555" stroke-width="0.8"/>
<text x="129.7" y="353.8" font-family="Liberation Sans, sans-serif" font-weight="bold" font-size="8">untreated wt and</text>
<text x="129.7" y="363.5" font-family="Liberation Sans, sans-serif" font-weight="bold" font-size="8" font-style="italic">FasL ΔIntra</text>
<rect x="288" y="118" width="23.0" height="9.2" fill="#2b2b2b"/>
<rect x="311" y="117.5" width="23.0" height="9.7" fill="#7a7a7a"/>
<rect x="370.2" y="83.6" width="23.4" height="43.6" fill="#2b2b2b"/>
<rect x="393.6" y="84.5" width="23.4" height="42.7" fill="#7a7a7a"/>
<rect x="453" y="47.6" width="23.0" height="79.6" fill="#2b2b2b"/>
<rect x="476" y="55.4" width="23.5" height="71.8" fill="#7a7a7a"/>
<path d="M299.5,114 V122 M297.3,114 H301.7 M297.3,122 H301.7" stroke="#000" stroke-width="1.2" fill="none"/>
<path d="M322.5,113.7 V121 M320.3,113.7 H324.7 M320.3,121 H324.7" stroke="#000" stroke-width="1.2" fill="none"/>
<path d="M382,76.4 V91.7 M379.8,76.4 H384.2 M379.8,91.7 H384.2" stroke="#000" stroke-width="1.2" fill="none"/>
<path d="M405.5,77.3 V91 M403.3,77.3 H407.7 M403.3,91 H407.7" stroke="#000" stroke-width="1.2" fill="none"/>
<path d="M465,37.5 V56.2 M462.8,37.5 H467.2 M462.8,56.2 H467.2" stroke="#000" stroke-width="1.2" fill="none"/>
<path d="M487.5,48.5 V61.4 M485.3,48.5 H489.7 M485.3,61.4 H489.7" stroke="#000" stroke-width="1.2" fill="none"/>
<line x1="269.5" y1="21.6" x2="269.5" y2="130.6" stroke="#000" stroke-width="1"/>
<line x1="269.0" y1="127.2" x2="517.4" y2="127.2" stroke="#000" stroke-width="1"/>
<line x1="266.5" y1="127.2" x2="269.5" y2="127.2" stroke="#000" stroke-width="0.9"/>
<text x="263.1" y="131.1" text-anchor="end" font-family="Liberation Sans, sans-serif" font-weight="bold" font-size="8.7">0</text>
<line x1="266.5" y1="114.0" x2="269.5" y2="114.0" stroke="#000" stroke-width="0.9"/>
<text x="263.1" y="117.9" text-anchor="end" font-family="Liberation Sans, sans-serif" font-weight="bold" font-size="8.7">10</text>
<line x1="266.5" y1="100.8" x2="269.5" y2="100.8" stroke="#000" stroke-width="0.9"/>
<text x="263.1" y="104.7" text-anchor="end" font-family="Liberation Sans, sans-serif" font-weight="bold" font-size="8.7">20</text>
<line x1="266.5" y1="87.6" x2="269.5" y2="87.6" stroke="#000" stroke-width="0.9"/>
<text x="263.1" y="91.5" text-anchor="end" font-family="Liberation Sans, sans-serif" font-weight="bold" font-size="8.7">30</text>
<line x1="266.5" y1="74.4" x2="269.5" y2="74.4" stroke="#000" stroke-width="0.9"/>
<text x="263.1" y="78.3" text-anchor="end" font-family="Liberation Sans, sans-serif" font-weight="bold" font-size="8.7">40</text>
<line x1="266.5" y1="61.2" x2="269.5" y2="61.2" stroke="#000" stroke-width="0.9"/>
<text x="263.1" y="65.1" text-anchor="end" font-family="Liberation Sans, sans-serif" font-weight="bold" font-size="8.7">50</text>
<line x1="266.5" y1="48.0" x2="269.5" y2="48.0" stroke="#000" stroke-width="0.9"/>
<text x="263.1" y="51.9" text-anchor="end" font-family="Liberation Sans, sans-serif" font-weight="bold" font-size="8.7">60</text>
<line x1="266.5" y1="34.8" x2="269.5" y2="34.8" stroke="#000" stroke-width="0.9"/>
<text x="263.1" y="38.7" text-anchor="end" font-family="Liberation Sans, sans-serif" font-weight="bold" font-size="8.7">70</text>
<line x1="266.5" y1="21.6" x2="269.5" y2="21.6" stroke="#000" stroke-width="0.9"/>
<text x="263.1" y="25.5" text-anchor="end" font-family="Liberation Sans, sans-serif" font-weight="bold" font-size="8.7">80</text>
<line x1="352" y1="127.2" x2="352" y2="130.6" stroke="#000" stroke-width="0.9"/>
<line x1="435" y1="127.2" x2="435" y2="130.6" stroke="#000" stroke-width="0.9"/>
<line x1="517" y1="127.2" x2="517" y2="130.6" stroke="#000" stroke-width="0.9"/>
<text x="310.5" y="142.6" text-anchor="middle" font-family="Liberation Sans, sans-serif" font-weight="bold" font-size="9.8">0</text>
<text x="393.5" y="142.6" text-anchor="middle" font-family="Liberation Sans, sans-serif" font-weight="bold" font-size="9.8">48</text>
<text x="476" y="142.6" text-anchor="middle" font-family="Liberation Sans, sans-serif" font-weight="bold" font-size="9.8">72</text>
<text x="391" y="39.4" text-anchor="middle" font-family="Liberation Sans, sans-serif" font-weight="bold" font-size="11.15">B cells</text>
<rect x="284.0" y="29.4" width="9.5" height="9.5" fill="#2b2b2b"/>
<rect x="284.3" y="43.7" width="9" height="9.2" fill="#7a7a7a" stroke="#505050" stroke-width="0.7"/>
<text x="297.5" y="37.7" font-family="Liberation Sans, sans-serif" font-weight="bold" font-size="8.8">wildtype</text>
<text x="297.5" y="52.3" font-family="Liberation Sans, sans-serif" font-weight="bold" font-size="8.8" font-style="italic">FasL ΔIntra</text>
<text transform="translate(247.5,70.8) rotate(-90)" text-anchor="middle" font-family="Liberation Sans, sans-serif" font-weight="bold" font-size="10.4">% dead cells</text>
<text x="395.5" y="158.8" text-anchor="middle" font-family="Liberation Sans, sans-serif" font-weight="bold" font-size="10.4">time of anti-IgM stimulation [h]</text>
<rect x="288" y="308.2" width="23.0" height="9.1" fill="#2b2b2b"/>
<rect x="311" y="308.2" width="23.0" height="9.1" fill="#7a7a7a"/>
<rect x="369" y="275" width="23.3" height="42.3" fill="#2b2b2b"/>
<rect x="392.3" y="265.8" width="23.0" height="51.5" fill="#7a7a7a"/>
<rect x="450.3" y="239.8" width="22.7" height="77.5" fill="#2b2b2b"/>
<rect x="473" y="235.8" width="23.3" height="81.5" fill="#7a7a7a"/>
<path d="M299.5,307.6 V308.8 M297.3,307.6 H301.7 M297.3,308.8 H301.7" stroke="#000" stroke-width="1.2" fill="none"/>
<path d="M322.5,307.6 V308.8 M320.3,307.6 H324.7 M320.3,308.8 H324.7" stroke="#000" stroke-width="1.2" fill="none"/>
<path d="M380.7,270 V280 M378.5,270 H382.9 M378.5,280 H382.9" stroke="#000" stroke-width="1.2" fill="none"/>
<path d="M403.7,260 V271.5 M401.5,260 H405.9 M401.5,271.5 H405.9" stroke="#000" stroke-width="1.2" fill="none"/>
<path d="M461.4,230.3 V247.6 M459.2,230.3 H463.59999999999997 M459.2,247.6 H463.59999999999997" stroke="#000" stroke-width="1.2" fill="none"/>
<path d="M484.8,229.4 V241.2 M482.6,229.4 H487.0 M482.6,241.2 H487.0" stroke="#000" stroke-width="1.2" fill="none"/>
<line x1="271" y1="211.2" x2="271" y2="320.7" stroke="#000" stroke-width="1"/>
<line x1="270.5" y1="317.3" x2="514.3" y2="317.3" stroke="#000" stroke-width="1"/>
<line x1="268" y1="317.3" x2="271" y2="317.3" stroke="#000" stroke-width="0.9"/>
<text x="264.6" y="321.3" text-anchor="end" font-family="Liberation Sans, sans-serif" font-weight="bold" font-size="8.7">0</text>
<line x1="268" y1="302.1" x2="271" y2="302.1" stroke="#000" stroke-width="0.9"/>
<text x="264.6" y="306.1" text-anchor="end" font-family="Liberation Sans, sans-serif" font-weight="bold" font-size="8.7">5</text>
<line x1="268" y1="287.0" x2="271" y2="287.0" stroke="#000" stroke-width="0.9"/>
<text x="264.6" y="291.0" text-anchor="end" font-family="Liberation Sans, sans-serif" font-weight="bold" font-size="8.7">10</text>
<line x1="268" y1="271.8" x2="271" y2="271.8" stroke="#000" stroke-width="0.9"/>
<text x="264.6" y="275.8" text-anchor="end" font-family="Liberation Sans, sans-serif" font-weight="bold" font-size="8.7">15</text>
<line x1="268" y1="256.7" x2="271" y2="256.7" stroke="#000" stroke-width="0.9"/>
<text x="264.6" y="260.7" text-anchor="end" font-family="Liberation Sans, sans-serif" font-weight="bold" font-size="8.7">20</text>
<line x1="268" y1="241.5" x2="271" y2="241.5" stroke="#000" stroke-width="0.9"/>
<text x="264.6" y="245.5" text-anchor="end" font-family="Liberation Sans, sans-serif" font-weight="bold" font-size="8.7">25</text>
<line x1="268" y1="226.4" x2="271" y2="226.4" stroke="#000" stroke-width="0.9"/>
<text x="264.6" y="230.4" text-anchor="end" font-family="Liberation Sans, sans-serif" font-weight="bold" font-size="8.7">30</text>
<line x1="268" y1="211.2" x2="271" y2="211.2" stroke="#000" stroke-width="0.9"/>
<text x="264.6" y="215.2" text-anchor="end" font-family="Liberation Sans, sans-serif" font-weight="bold" font-size="8.7">35</text>
<line x1="352" y1="317.3" x2="352" y2="320.7" stroke="#000" stroke-width="0.9"/>
<line x1="433" y1="317.3" x2="433" y2="320.7" stroke="#000" stroke-width="0.9"/>
<line x1="514" y1="317.3" x2="514" y2="320.7" stroke="#000" stroke-width="0.9"/>
<text x="310.8" y="332.7" text-anchor="middle" font-family="Liberation Sans, sans-serif" font-weight="bold" font-size="9.8">0</text>
<text x="393" y="332.7" text-anchor="middle" font-family="Liberation Sans, sans-serif" font-weight="bold" font-size="9.8">48</text>
<text x="473.3" y="332.7" text-anchor="middle" font-family="Liberation Sans, sans-serif" font-weight="bold" font-size="9.8">72</text>
<text x="390.6" y="230.5" text-anchor="middle" font-family="Liberation Sans, sans-serif" font-weight="bold" font-size="11.15">T cells</text>
<rect x="285.0" y="221.9" width="9.5" height="9.5" fill="#2b2b2b"/>
<rect x="285.3" y="236.2" width="9" height="9.2" fill="#7a7a7a" stroke="#505050" stroke-width="0.7"/>
<text x="298.5" y="230.2" font-family="Liberation Sans, sans-serif" font-weight="bold" font-size="8.8">wildtype</text>
<text x="298.5" y="244.8" font-family="Liberation Sans, sans-serif" font-weight="bold" font-size="8.8" font-style="italic">FasL ΔIntra</text>
<text transform="translate(252.3,253) rotate(-90)" text-anchor="middle" font-family="Liberation Sans, sans-serif" font-weight="bold" font-size="10.4">% dead cells</text>
<text x="394.8" y="350.3" text-anchor="middle" font-family="Liberation Sans, sans-serif" font-weight="bold" font-size="10.4">time of anti-CD3 stimulation [h]</text>
</svg>
</body></html>
